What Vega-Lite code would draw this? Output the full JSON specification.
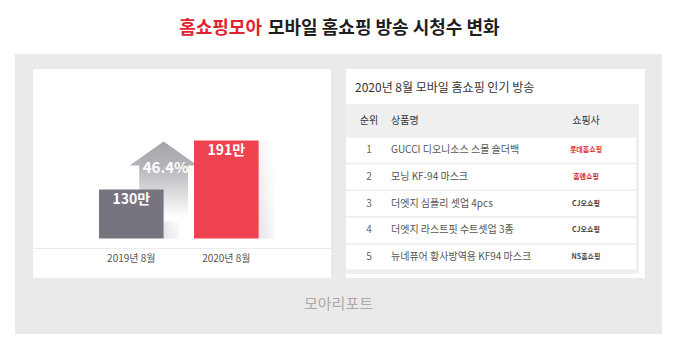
{
  "$schema": "https://vega.github.io/schema/vega-lite/v6.json",
  "background": "#ffffff",
  "padding": {"left": 15, "right": 18, "top": 0, "bottom": 21},
  "spacing": 0,
  "resolve": {"scale": {"color": "independent", "x": "independent", "y": "independent"}},
  "config": {
    "view": {"stroke": null},
    "concat": {"spacing": 0},
    "font": "Noto Sans CJK KR"
  },
  "vconcat": [
    {
      "width": 647,
      "height": 54,
      "data": {"values": [
        {"part": "brand", "label": "홈쇼핑모아"},
        {"part": "topic", "label": "모바일 홈쇼핑 방송 시청수 변화"}
      ]},
      "mark": {"type": "text", "fontSize": 18, "fontWeight": "bold", "baseline": "middle", "dy": 2, "align": {"expr": "datum.part === 'brand' ? 'right' : 'left'"}},
      "encoding": {
        "x": {"field": "part", "type": "nominal", "scale": {"type": "point", "domain": ["brand", "topic"], "range": [247, 253], "padding": 0}, "axis": null},
        "text": {"field": "label"},
        "color": {"field": "part", "type": "nominal", "scale": {"domain": ["brand", "topic"], "range": ["#e1232f", "#1e1e1e"]}, "legend": null}
      }
    },
    {
      "width": 647,
      "height": 15,
      "view": {"fill": "#eaeaea", "stroke": null},
      "data": {"values": [{}]},
      "mark": {"type": "point", "opacity": 0}
    },
    {
      "spacing": 0,
      "resolve": {"scale": {"color": "independent", "x": "independent", "y": "independent"}},
      "hconcat": [
        {
          "width": 18,
          "height": 209,
          "view": {"fill": "#eaeaea", "stroke": null},
          "data": {"values": [{}]},
          "mark": {"type": "point", "opacity": 0}
        },
        {
          "width": 298,
          "height": 209,
          "view": {"fill": "#ffffff", "cornerRadius": 4, "stroke": null},
          "data": {"values": [
            {"period": "2019년 8월", "views": 130, "label": "130만"},
            {"period": "2020년 8월", "views": 191, "label": "191만"}
          ]},
          "encoding": {
            "x": {
              "field": "period", "type": "nominal",
              "scale": {"type": "band", "domain": ["2019년 8월", "2020년 8월"], "paddingInner": 0.32, "paddingOuter": 0.728, "align": 0.477},
              "axis": {"orient": "bottom", "offset": -30, "domainColor": "#ebebeb", "domainWidth": 1, "ticks": false, "labelPadding": 5, "labelFontSize": 10, "labelColor": "#555555", "labelAngle": 0, "title": null, "grid": false}
            }
          },
          "layer": [
            {
              "mark": {
                "type": "bar", "width": 16, "xOffset": 40,
                "fill": {"gradient": "linear", "x1": 0, "y1": 1, "x2": 1, "y2": 0.2, "stops": [
                  {"offset": 0, "color": "#e3e3e6"},
                  {"offset": 0.6, "color": "#f7f7f8"},
                  {"offset": 1, "color": "#ffffff"}
                ]}
              },
              "encoding": {
                "y": {"field": "views", "type": "quantitative", "scale": {"domain": [36, 264], "zero": false}, "axis": null},
                "y2": {"datum": 69}
              }
            },
            {
              "data": {"values": [{"from": "2019년 8월", "to": "2020년 8월", "growth": "46.4%"}]},
              "mark": {
                "type": "point",
                "shape": "M0,-1L0.85,-0.4L0.61,-0.4L0.61,1L-0.61,1L-0.61,-0.4L-0.85,-0.4Z",
                "size": 6400,
                "filled": true,
                "opacity": 1,
                "strokeWidth": 0,
                "fill": {"gradient": "linear", "x1": 0, "y1": 0, "x2": 0, "y2": 1, "stops": [
                  {"offset": 0, "color": "#a4a4aa"},
                  {"offset": 0.3, "color": "#b3b3b8"},
                  {"offset": 0.62, "color": "#d9d9dc"},
                  {"offset": 0.95, "color": "#ffffff"}
                ]}
              },
              "encoding": {
                "x": {"field": "from", "type": "nominal", "bandPosition": 1, "title": null},
                "y": {"datum": 140, "type": "quantitative"}
              }
            },
            {
              "mark": {"type": "bar"},
              "encoding": {
                "y": {"field": "views", "type": "quantitative"},
                "y2": {"datum": 69},
                "color": {"field": "period", "type": "nominal", "scale": {"domain": ["2019년 8월", "2020년 8월"], "range": ["#77747f", "#ef424f"]}, "legend": null}
              }
            },
            {
              "mark": {"type": "text", "color": "#ffffff", "fontSize": 14, "fontWeight": "bold", "baseline": "middle", "dy": 10},
              "encoding": {
                "y": {"field": "views", "type": "quantitative"},
                "text": {"field": "label"}
              }
            },
            {
              "data": {"values": [{"from": "2019년 8월", "to": "2020년 8월", "growth": "46.4%"}]},
              "mark": {"type": "text", "color": "#ffffff", "fontSize": 15, "fontWeight": "bold", "baseline": "middle", "dx": 2},
              "encoding": {
                "x": {"field": "from", "type": "nominal", "bandPosition": 1, "title": null},
                "y": {"datum": 157, "type": "quantitative"},
                "text": {"field": "growth"}
              }
            }
          ]
        },
        {
          "width": 15,
          "height": 209,
          "view": {"fill": "#eaeaea", "stroke": null},
          "data": {"values": [{}]},
          "mark": {"type": "point", "opacity": 0}
        },
        {
          "width": 299,
          "height": 209,
          "view": {"fill": "#ffffff", "cornerRadius": 4, "stroke": null},
          "title": {"text": "2020년 8월 모바일 홈쇼핑 인기 방송", "anchor": "start", "frame": "group", "offset": -26, "dx": 9, "fontSize": 12, "fontWeight": "normal", "color": "#333333"},
          "data": {"values": [
            {"row": "1", "name": "GUCCI 디오니소스 스몰 숄더백", "shop": "롯데홈쇼핑"},
            {"row": "2", "name": "모닝 KF-94 마스크", "shop": "홈앤쇼핑"},
            {"row": "3", "name": "더엣지 심플리 셋업 4pcs", "shop": "CJ오쇼핑"},
            {"row": "4", "name": "더엣지 라스트핏 수트셋업 3종", "shop": "CJ오쇼핑"},
            {"row": "5", "name": "뉴네퓨어 황사방역용 KF94 마스크", "shop": "NS홈쇼핑"}
          ]},
          "layer": [
            {
              "mark": {"type": "rect", "color": "#efefef", "xOffset": -6, "x2Offset": 6, "yOffset": -19, "y2Offset": 16},
              "encoding": {
                "y": {"datum": "header", "type": "nominal", "scale": {"type": "band", "domain": ["header", "1", "2", "3", "4", "5"], "paddingInner": 0.075, "paddingOuter": 0.937, "align": 0.833}, "axis": null},
                "y2": {"datum": "5"}
              }
            },
            {
              "mark": {"type": "rect", "color": "#ffffff", "xOffset": -9, "x2Offset": 9},
              "encoding": {
                "y": {"field": "row", "type": "nominal"}
              }
            },
            {
              "data": {"values": [{"col": "순위"}, {"col": "상품명"}, {"col": "쇼핑사"}]},
              "mark": {"type": "text", "fontSize": 10, "color": "#333333", "baseline": "middle", "dy": -2,
                "align": {"expr": "datum.col === '상품명' ? 'left' : 'center'"},
                "dx": {"expr": "datum.col === '상품명' ? -86.5 : 0"}},
              "encoding": {
                "x": {"field": "col", "type": "nominal", "scale": {"type": "point", "domain": ["순위", "상품명", "쇼핑사"], "range": [23, 240], "padding": 0}, "axis": null},
                "y": {"datum": "header", "type": "nominal"},
                "text": {"field": "col"}
              }
            },
            {
              "mark": {"type": "text", "fontSize": 10, "color": "#666666", "baseline": "middle"},
              "encoding": {
                "x": {"datum": "순위", "type": "nominal"},
                "y": {"field": "row", "type": "nominal"},
                "text": {"field": "row"}
              }
            },
            {
              "mark": {"type": "text", "fontSize": 10, "color": "#555555", "baseline": "middle", "align": "left", "dx": -86.5},
              "encoding": {
                "x": {"datum": "상품명", "type": "nominal"},
                "y": {"field": "row", "type": "nominal"},
                "text": {"field": "name"}
              }
            },
            {
              "mark": {"type": "text", "fontSize": 7, "fontWeight": "bold", "baseline": "middle"},
              "encoding": {
                "x": {"datum": "쇼핑사", "type": "nominal"},
                "y": {"field": "row", "type": "nominal"},
                "text": {"field": "shop"},
                "color": {"field": "shop", "type": "nominal", "scale": {"domain": ["롯데홈쇼핑", "홈앤쇼핑", "CJ오쇼핑", "NS홈쇼핑"], "range": ["#e0303a", "#d81f2a", "#3a3a3a", "#4a4a4a"]}, "legend": null}
              }
            }
          ]
        },
        {
          "width": 17,
          "height": 209,
          "view": {"fill": "#eaeaea", "stroke": null},
          "data": {"values": [{}]},
          "mark": {"type": "point", "opacity": 0}
        }
      ]
    },
    {
      "width": 647,
      "height": 56,
      "view": {"fill": "#eaeaea", "stroke": null},
      "data": {"values": [{"source": "모아리포트"}]},
      "mark": {"type": "text", "fontSize": 15, "color": "#aaaaaa", "baseline": "middle", "dy": -2},
      "encoding": {"text": {"field": "source"}}
    }
  ]
}
